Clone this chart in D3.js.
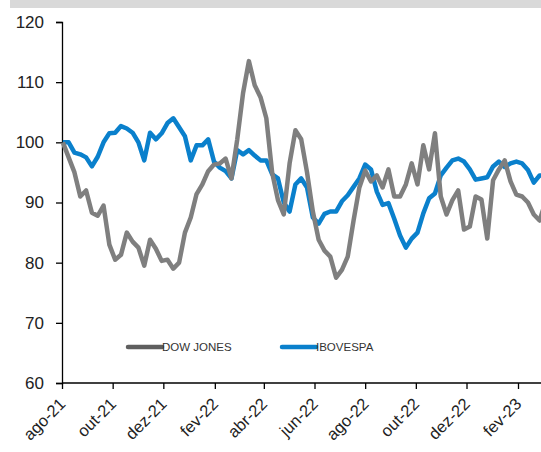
<!DOCTYPE html>
<html>
<head>
<meta charset="utf-8">
<script src="https://cdn.jsdelivr.net/npm/d3@7"></script>
<style>
  body { margin: 0; background: #fff; }
  #chart { width: 541px; height: 452px; }
</style>
</head>
<body>
<div id="chart"></div>
<script>

// weekly closes, indexed (ago-21 = 100)
var dowJones = [100, 97.5, 95, 91, 92, 88.3, 87.8, 89.5, 83, 80.5,
  81.3, 85, 83.5, 82.5, 79.5, 83.8, 82.3, 80.3, 80.5, 79,
  80, 85, 87.5, 91.4, 93, 95.2, 96.3, 96.5, 97.3, 94,
  100.5, 108.2, 113.5, 109.5, 107.5, 104, 95, 90.4, 88, 96.5,
  102, 100.5, 95, 88.5, 83.8, 82, 81, 77.5, 78.8, 81,
  87, 92.5, 95.3, 93.5, 94.5, 92.5, 95.5, 91, 91, 93,
  96.5, 93, 99.5, 95.5, 101.5, 91, 88, 90.4, 92, 85.5,
  86, 91, 90.5, 84, 93.7, 95.5, 97, 93.5, 91.3, 91,
  90, 88, 87, 90];

var ibovespa = [100, 100, 98.3, 98, 97.5, 96, 97.6, 100, 101.5, 101.6,
  102.7, 102.3, 101.6, 100, 97, 101.6, 100.5, 101.5, 103.2, 104,
  102.5, 101, 97, 99.5, 99.5, 100.5, 96.8, 95.8, 95.2, 94,
  98.7, 98, 98.7, 97.8, 97, 97, 94.7, 94, 90, 88.5,
  93, 94, 92.5, 87.5, 86.5, 88.1, 88.5, 88.5, 90.2, 91.2,
  92.6, 94, 96.3, 95.5, 91.8, 89.6, 89.9, 87.3, 84.5, 82.5,
  84, 85, 88.2, 90.7, 91.5, 94.5, 95.8, 97, 97.3, 96.8,
  95.5, 93.8, 94, 94.2, 96, 96.8, 95.9, 96.5, 96.8, 96.5,
  95.4, 93.3, 94.5, 94.5];

var weeks = d3.timeMonday.range(new Date(2021, 7, 2), new Date(2023, 2, 7));

var yTicks = [60, 70, 80, 90, 100, 110, 120];
var xTicks = d3.timeMonth.range(new Date(2021, 7, 1), new Date(2023, 2, 1), 2);
var monthNames = ["jan", "fev", "mar", "abr", "mai", "jun", "jul", "ago", "set", "out", "nov", "dez"];

var seriesNames = ["DOW JONES", "IBOVESPA"];
var seriesColors = ["#7f7f7f", "#0a80cc"];

var width = 541, height = 452;

var svg = d3.select("#chart").append("svg")
    .attr("width", width)
    .attr("height", height);

// grey band on top
svg.append("rect")
    .attr("x", 10).attr("y", 0)
    .attr("width", width - 10).attr("height", 8)
    .attr("fill", "#d9d9d9");

var x = d3.scaleTime()
    .domain([new Date(2021, 7, 1), new Date(2023, 1, 1)])
    .range([62, 518]);

var y = d3.scaleLinear()
    .domain([60, 120])
    .range([383, 22]);

var yAxis = svg.append("g")
    .attr("transform", "translate(62,0)")
    .call(d3.axisLeft(y).tickValues(yTicks).tickSize(6).tickPadding(12));

var xAxis = svg.append("g")
    .attr("transform", "translate(0,383)")
    .call(d3.axisBottom(x).tickValues(xTicks).tickSize(6).tickSizeOuter(0)
        .tickFormat(function(d){ return monthNames[d.getMonth()] + "-" + String(d.getFullYear()).slice(2); }));

xAxis.select(".domain").attr("d", "M62,0H541");

svg.selectAll(".domain, .tick line").attr("stroke", "#000").attr("stroke-width", 1.3);

yAxis.selectAll("text")
    .style("font-family", "'Liberation Sans', Arial, sans-serif")
    .style("font-size", "17px")
    .attr("fill", "#222");

xAxis.selectAll("text")
    .style("font-family", "'Liberation Sans', Arial, sans-serif")
    .style("font-size", "16.5px")
    .attr("fill", "#222")
    .style("text-anchor", "end")
    .attr("dx", 0).attr("dy", 0).attr("y", 0)
    .attr("transform", "translate(4,22) rotate(-45)");

var line = d3.line()
    .x(function(d, i){ return x(weeks[i]); })
    .y(function(d){ return y(d); });

// ibovespa below, dow on top
[ibovespa, dowJones].forEach(function(s, k){
  svg.append("path")
      .datum(s)
      .attr("fill", "none")
      .attr("stroke", k == 0 ? seriesColors[1] : seriesColors[0])
      .attr("stroke-width", 4.5)
      .attr("stroke-linejoin", "round")
      .attr("d", line);
});

// legend
var legendX = [128, 282];
seriesNames.forEach(function(name, i){
  svg.append("line")
      .attr("x1", legendX[i]).attr("x2", legendX[i] + 34)
      .attr("y1", 347).attr("y2", 347)
      .attr("stroke", i == 0 ? "#5f5f5f" : seriesColors[1])
      .attr("stroke-width", 4.5)
      .attr("stroke-linecap", "round");
  svg.append("text")
      .attr("x", legendX[i] + 34).attr("y", 351)
      .style("font-family", "'Liberation Sans', Arial, sans-serif")
      .style("font-size", "11.5px")
      .attr("fill", "#333")
      .text(name);
});

</script>
</body>
</html>
